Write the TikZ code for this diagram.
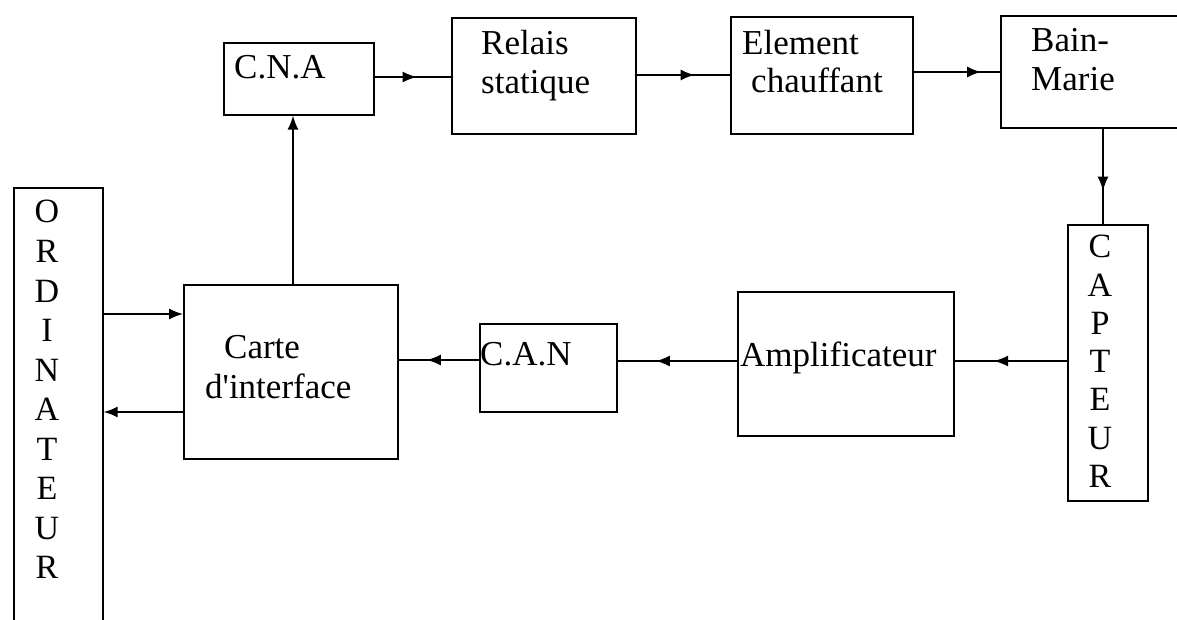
\documentclass[tikz,border=0pt]{standalone}
\usepackage{fontspec}
\setmainfont{Liberation Serif}
\usetikzlibrary{arrows.meta,decorations.markings}
\tikzset{
  blk/.style={draw, line width=1.7pt, rectangle},
  lbl/.style={anchor=base west, inner sep=0pt, font=\fontsize{35}{39.5}\selectfont},
  vlet/.style={anchor=base, inner sep=0pt, font=\fontsize{34}{39.5}\selectfont},
  conn/.style={line width=1.5pt},
  tip/.style={-{Latex[length=14pt,width=11pt]}},
  midarrow/.style={postaction={decorate,decoration={markings,
      mark=at position #1 with {\arrow{Latex[length=14pt,width=11pt]}}}}}
}
\begin{document}
\begin{tikzpicture}[x=1pt,y=-1pt]
\useasboundingbox (0,0) rectangle (1177,620);
\clip (0,0) rectangle (1177,620);
% boxes
\node[blk, anchor=north west, minimum width=150pt, minimum height=72pt] (cna) at (223,42) {};
\node[blk, anchor=north west, minimum width=184pt, minimum height=116pt] (rel) at (451,17) {};
\node[blk, anchor=north west, minimum width=182pt, minimum height=117pt] (ele) at (730,16) {};
\node[blk, anchor=north west, minimum width=190pt, minimum height=112pt] (bain) at (1000,15) {};
\node[blk, anchor=north west, minimum width=80pt, minimum height=276pt] (cap) at (1067,224) {};
\node[blk, anchor=north west, minimum width=216pt, minimum height=144pt] (amp) at (737,291) {};
\node[blk, anchor=north west, minimum width=137pt, minimum height=88pt] (can) at (479,323) {};
\node[blk, anchor=north west, minimum width=214pt, minimum height=174pt] (carte) at (183,284) {};
\node[blk, anchor=north west, minimum width=89pt, minimum height=460pt] (ord) at (13,187) {};
% labels
\node[lbl] (tcna) at (234,79) {C.N.A};
\node[lbl] (trel1) at (481,55) {Relais};
\node[lbl] (trel2) at (481,94) {statique};
\node[lbl] (tele1) at (742,55) {Element};
\node[lbl] (tele2) at (751,93) {chauffant};
\node[lbl] (tbain1) at (1031,52) {Bain-};
\node[lbl] (tbain2) at (1031,91) {Marie};
\node[lbl] (tcar1) at (224,358) {Carte};
\node[lbl] (tcar2) at (205,398) {d\textquotesingle interface};
\node[lbl] (tcan) at (480,365) {C.A.N};
\node[lbl] (tamp) at (740,366) {Amplificateur};
\foreach \c [count=\i from 0] in {O,R,D,I,N,A,T,E,U,R}
  \node[vlet] (ord\i) at (47,223+39.5*\i) {\c};
\foreach \c [count=\i from 0] in {C,A,P,T,E,U,R}
  \node[vlet] (cap\i) at (1100,258+38.2*\i) {\c};
% connectors
\draw[conn, midarrow=0.55] (cna.east |- 0,77) -- (rel.west |- 0,77);
\draw[conn, midarrow=0.62] (rel.east |- 0,75) -- (ele.west |- 0,75);
\draw[conn, midarrow=0.78] (ele.east |- 0,72) -- (bain.west |- 0,72);
\draw[conn, midarrow=0.65] (bain.south -| 1103,0) -- (cap.north -| 1103,0);
\draw[conn, midarrow=0.65] (cap.west |- 0,361) -- (amp.east |- 0,361);
\draw[conn, midarrow=0.68] (amp.west |- 0,361) -- (can.east |- 0,361);
\draw[conn, midarrow=0.65] (can.west |- 0,360) -- (carte.east |- 0,360);
\draw[conn, tip] (carte.north -| 293,0) -- (cna.south -| 293,0);
\draw[conn, tip] (ord.east |- 0,314) -- (carte.west |- 0,314);
\draw[conn, tip] (carte.west |- 0,412) -- (ord.east |- 0,412);
\end{tikzpicture}
\end{document}
